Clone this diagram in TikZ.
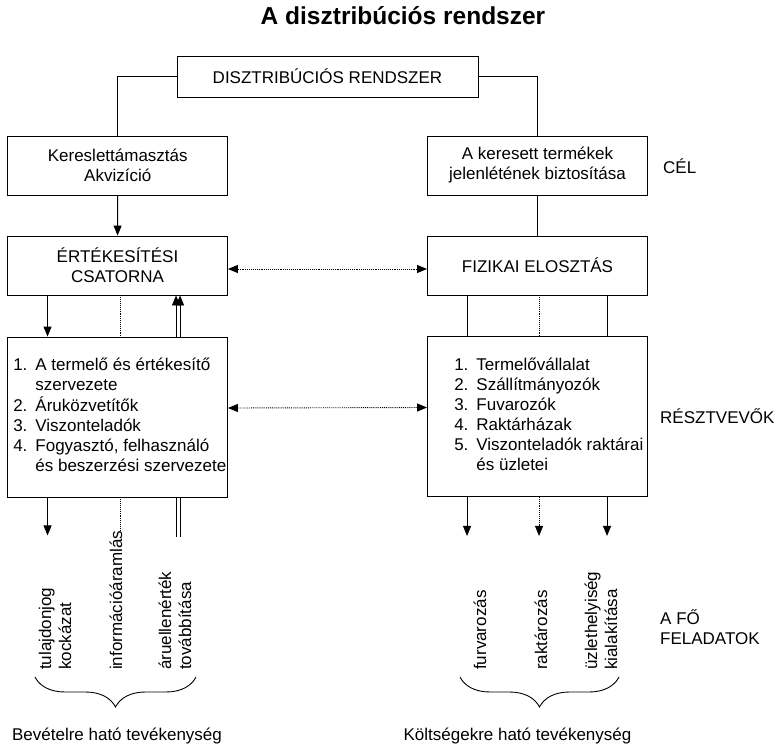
\documentclass[tikz,border=0pt]{standalone}
\usepackage{fontspec}
\setmainfont{Liberation Sans}
\usetikzlibrary{arrows.meta,decorations.pathreplacing}
\tikzset{
  >={Triangle[length=10pt,width=8pt]},
  line/.style={line width=0.9pt},
  arr/.style={line, ->},
  dotln/.style={line, densely dotted},
  dotarr/.style={arr, densely dotted},
  box/.style={draw, line width=0.9pt, inner sep=2pt, align=center},
  wide/.style={box, minimum width=220, minimum height=59},
  listbox/.style={box, minimum width=220, minimum height=160},
  listtext/.style={anchor=west, inner sep=0pt},
  title/.style={font=\fontsize{24.5}{28}\selectfont\bfseries},
  task/.style={rotate=90, anchor=west, align=left, inner sep=0pt},
  side/.style={anchor=west, align=left, inner sep=0pt},
  brc/.style={line, decorate, decoration={brace, mirror, amplitude=30pt}},
}
\newcommand{\nr}{@{}l@{\hspace{8pt}}l@{}}

\begin{document}
\begin{tikzpicture}[x=1pt, y=-1pt, font=\fontsize{17}{20}\selectfont]
\useasboundingbox (0,0) rectangle (779,747);

\node[title] (title) at (403,16) {A disztribúciós rendszer};

%% ---- system and goals --------------------------------------------------
\node[box, minimum width=301, minimum height=41] (sys) at (327.5,76.5)
  {DISZTRIBÚCIÓS RENDSZER};
\node[wide] (demand) at (117.75,165.5) {Kereslettámasztás\\Akvizíció};
\node[wide] (goal) at (537.5,165.5) {A keresett termékek\\jelenlétének biztosítása};
\draw[line] (sys.west) -| (demand.north);
\draw[line] (sys.east) -| (goal.north);

%% ---- channel and physical distribution ---------------------------------
\node[wide] (channel) at (117.5,265.5) {ÉRTÉKESÍTÉSI\\CSATORNA};
\node[wide] (physical) at (537.5,265.5) {FIZIKAI ELOSZTÁS};
\draw[arr] (demand) -- (channel);
\draw[line] (goal) -- (physical);
\draw[dotln, <->] ([yshift=-3.5]channel.east) -- ([yshift=-3.5]physical.west);

%% ---- participants ------------------------------------------------------
\node[listbox] (partL) at (117.5,417) {};
\node[listtext] (partLtext) at ([xshift=6]partL.west) {\begin{tabular}{\nr}
  1. & A termelő és értékesítő\\
     & szervezete\\
  2. & Áruközvetítők\\
  3. & Viszonteladók\\
  4. & Fogyasztó, felhasználó\\
     & és beszerzési szervezete
\end{tabular}};
\node[listbox] (partR) at (537.5,416.5) {};
\node[listtext] (partRtext) at ([xshift=27]partR.west) {\begin{tabular}{\nr}
  1. & Termelővállalat\\
  2. & Szállítmányozók\\
  3. & Fuvarozók\\
  4. & Raktárházak\\
  5. & Viszonteladók raktárai\\
     & és üzletei
\end{tabular}};
\draw[dotln, <->] ([yshift=9]partL.east) -- ([yshift=9]partR.west);

% channel <-> its participants: goods down, information, money back up
\draw[arr] ([xshift=40.5]channel.south west) -- ([xshift=40.5]partL.north west);
\draw[dotln] ([xshift=113]channel.south west) -- ([xshift=113]partL.north west);
\foreach \dx in {169,173}
  \draw[arr] ([xshift=\dx]partL.north west) -- ([xshift=\dx]channel.south west);
\foreach \dx/\sty in {40/line, 112/dotln, 180/line}
  \draw[\sty] ([xshift=\dx]physical.south west) -- ([xshift=\dx]partR.north west);

%% ---- main tasks --------------------------------------------------------
\foreach \x/\txt/\nm in
    {55/{tulajdonjog\\kockázat}/own, 116/{információáramlás}/info,
     175/{áruellenérték\\továbbítása}/value, 480/{furvarozás}/carry,
     541/{raktározás}/store, 601/{üzlethelyiség\\kialakítása}/shop}
  \node[task] (\nm) at (\x,670) {\txt};

\draw[arr] ([xshift=40.5]partL.south west) -- ++(0,38);
\coordinate (infoTop) at ([xshift=113]partL.south west);
\draw[dotln] (infoTop) -- (infoTop |- info.east);
\foreach \dx in {169,173}
  \draw[line] ([xshift=\dx]partL.south west) -- ++(0,40);
\foreach \dx/\sty in {40/arr, 112/dotarr, 180/arr}
  \draw[\sty] ([xshift=\dx]partR.south west) -- ++(0,39);

% braces and what they sum up
\draw[brc] ([shift={(-20,7)}]own.west) -- ([shift={(21,7)}]value.west);
\draw[brc] ([shift={(-20,7)}]carry.west) -- ([shift={(18,7)}]shop.west);
\node (revenue) at (117,736) {Bevételre ható tevékenység};
\node (cost) at (517.5,736) {Költségekre ható tevékenység};

%% ---- level labels ------------------------------------------------------
\node[side] (goalLbl) at (663,166) {CÉL};
\node[side] (partLbl) at (660,416) {RÉSZTVEVŐK};
\node[side] (taskLbl) at (660,627) {A FŐ\\FELADATOK};

\end{tikzpicture}
\end{document}
